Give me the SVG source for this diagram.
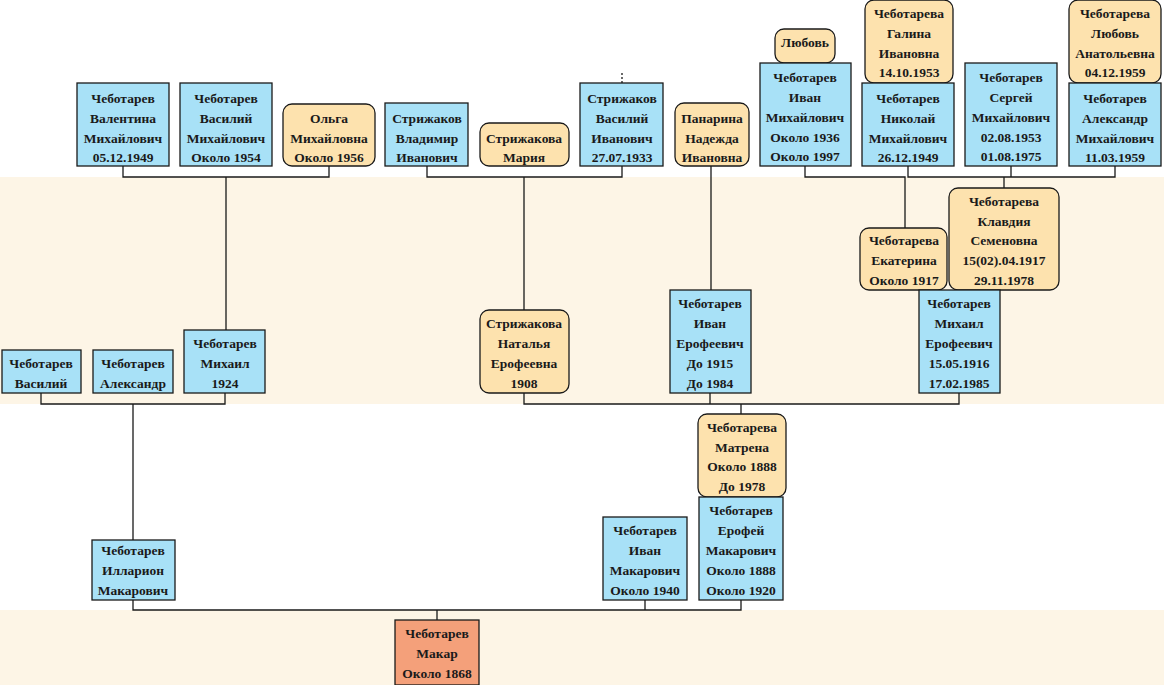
<svg xmlns="http://www.w3.org/2000/svg" width="1164" height="685" viewBox="0 0 1164 685">
<style>
.m{fill:#a8e1f7;stroke:#1a1a1a;stroke-width:1.3}
.f{fill:#fde2ae;stroke:#1a1a1a;stroke-width:1.3}
.r{fill:#f4a07a;stroke:#1a1a1a;stroke-width:1.3}
text{font-family:"Liberation Serif",serif;font-weight:bold;font-size:13.5px;fill:#1a1a1a;text-anchor:middle}
#c path{fill:none;stroke:#1a1a1a;stroke-width:1.3}
</style>
<rect width="1164" height="685" fill="#fff"/>
<rect x="0" y="177" width="1164" height="227" fill="#fdf5e6"/>
<rect x="0" y="610" width="1164" height="75" fill="#fdf5e6"/>
<g id="c">
<path d="M123 166V177H329V166M226 177V330"/>
<path d="M427 166V177H622V166M524 177V310"/>
<path d="M622 73V83" stroke-dasharray="2,2"/>
<path d="M711 166V290"/>
<path d="M805 166V177H905V228"/>
<path d="M908 166V177H1115V166M1011 166V177M1004 177V188"/>
<path d="M41 393V404H225V393M133 404V540"/>
<path d="M524 393V404H959V393M710 393V404M741 404V414"/>
<path d="M133 600V610H741V600M645 600V610M437 610V620"/>
</g>
<g id="n1"><rect class="m" x="77" y="83" width="92" height="83"/><text x="123" y="103">Чеботарев</text><text x="123" y="123">Валентина</text><text x="123" y="143">Михайлович</text><text x="123" y="162">05.12.1949</text></g>
<g id="n2"><rect class="m" x="180" y="83" width="92" height="83"/><text x="226" y="103">Чеботарев</text><text x="226" y="123">Василий</text><text x="226" y="143">Михайлович</text><text x="226" y="162">Около 1954</text></g>
<g id="n3"><rect class="f" x="283" y="104" width="92" height="62" rx="9"/><text x="329" y="123">Ольга</text><text x="329" y="143">Михайловна</text><text x="329" y="162">Около 1956</text></g>
<g id="n4"><rect class="m" x="385" y="103" width="83" height="63"/><text x="427" y="123">Стрижаков</text><text x="427" y="143">Владимир</text><text x="427" y="162">Иванович</text></g>
<g id="n5"><rect class="f" x="480" y="123" width="89" height="43" rx="9"/><text x="524" y="143">Стрижакова</text><text x="524" y="162">Мария</text></g>
<g id="n6"><rect class="m" x="580" y="83" width="83" height="83"/><text x="622" y="103">Стрижаков</text><text x="622" y="123">Василий</text><text x="622" y="143">Иванович</text><text x="622" y="162">27.07.1933</text></g>
<g id="n7"><rect class="f" x="675" y="103" width="74" height="63" rx="9"/><text x="712" y="123">Панарина</text><text x="712" y="143">Надежда</text><text x="712" y="162">Ивановна</text></g>
<g id="n8"><rect class="f" x="775" y="29" width="60" height="34" rx="9"/><text x="805" y="47">Любовь</text></g>
<g id="n9"><rect class="m" x="760" y="63" width="91" height="103"/><text x="805" y="82">Чеботарев</text><text x="805" y="102">Иван</text><text x="805" y="122">Михайлович</text><text x="805" y="142">Около 1936</text><text x="805" y="161">Около 1997</text></g>
<g id="n10"><rect class="f" x="865" y="0" width="88" height="83" rx="9"/><text x="909" y="18">Чеботарева</text><text x="909" y="38">Галина</text><text x="909" y="58">Ивановна</text><text x="909" y="77">14.10.1953</text></g>
<g id="n11"><rect class="m" x="862" y="83" width="92" height="83"/><text x="908" y="103">Чеботарев</text><text x="908" y="123">Николай</text><text x="908" y="143">Михайлович</text><text x="908" y="162">26.12.1949</text></g>
<g id="n12"><rect class="m" x="965" y="63" width="92" height="103"/><text x="1011" y="82">Чеботарев</text><text x="1011" y="102">Сергей</text><text x="1011" y="122">Михайлович</text><text x="1011" y="142">02.08.1953</text><text x="1011" y="161">01.08.1975</text></g>
<g id="n13"><rect class="f" x="1069" y="0" width="92" height="83" rx="9"/><text x="1115" y="18">Чеботарева</text><text x="1115" y="38">Любовь</text><text x="1115" y="58">Анатольевна</text><text x="1115" y="77">04.12.1959</text></g>
<g id="n14"><rect class="m" x="1069" y="83" width="92" height="83"/><text x="1115" y="103">Чеботарев</text><text x="1115" y="123">Александр</text><text x="1115" y="143">Михайлович</text><text x="1115" y="162">11.03.1959</text></g>
<g id="n15"><rect class="f" x="860" y="228" width="87" height="62" rx="9"/><text x="904" y="245">Чеботарева</text><text x="904" y="265">Екатерина</text><text x="904" y="285">Около 1917</text></g>
<g id="n16"><rect class="f" x="949" y="188" width="110" height="102" rx="9"/><text x="1004" y="206">Чеботарева</text><text x="1004" y="226">Клавдия</text><text x="1004" y="245">Семеновна</text><text x="1004" y="265">15(02).04.1917</text><text x="1004" y="285">29.11.1978</text></g>
<g id="n17"><rect class="m" x="919" y="290" width="81" height="103"/><text x="959" y="308">Чеботарев</text><text x="959" y="328">Михаил</text><text x="959" y="348">Ерофеевич</text><text x="959" y="368">15.05.1916</text><text x="959" y="388">17.02.1985</text></g>
<g id="n18"><rect class="m" x="670" y="290" width="81" height="103"/><text x="710" y="308">Чеботарев</text><text x="710" y="328">Иван</text><text x="710" y="348">Ерофеевич</text><text x="710" y="368">До 1915</text><text x="710" y="388">До 1984</text></g>
<g id="n19"><rect class="f" x="480" y="310" width="89" height="83" rx="9"/><text x="524" y="328">Стрижакова</text><text x="524" y="348">Наталья</text><text x="524" y="368">Ерофеевна</text><text x="524" y="388">1908</text></g>
<g id="n20"><rect class="m" x="184" y="330" width="81" height="63"/><text x="225" y="348">Чеботарев</text><text x="225" y="368">Михаил</text><text x="225" y="388">1924</text></g>
<g id="n21"><rect class="m" x="2" y="350" width="79" height="43"/><text x="41" y="368">Чеботарев</text><text x="41" y="388">Василий</text></g>
<g id="n22"><rect class="m" x="93" y="350" width="80" height="43"/><text x="133" y="368">Чеботарев</text><text x="133" y="388">Александр</text></g>
<g id="n23"><rect class="f" x="698" y="414" width="88" height="83" rx="9"/><text x="742" y="432">Чеботарева</text><text x="742" y="452">Матрена</text><text x="742" y="471">Около 1888</text><text x="742" y="491">До 1978</text></g>
<g id="n24"><rect class="m" x="699" y="497" width="84" height="103"/><text x="741" y="515">Чеботарев</text><text x="741" y="535">Ерофей</text><text x="741" y="555">Макарович</text><text x="741" y="575">Около 1888</text><text x="741" y="595">Около 1920</text></g>
<g id="n25"><rect class="m" x="603" y="517" width="84" height="83"/><text x="645" y="535">Чеботарев</text><text x="645" y="555">Иван</text><text x="645" y="575">Макарович</text><text x="645" y="595">Около 1940</text></g>
<g id="n26"><rect class="m" x="92" y="540" width="83" height="60"/><text x="133" y="555">Чеботарев</text><text x="133" y="575">Илларион</text><text x="133" y="595">Макарович</text></g>
<g id="n27"><rect class="r" x="395" y="620" width="84" height="65"/><text x="437" y="638">Чеботарев</text><text x="437" y="658">Макар</text><text x="437" y="678">Около 1868</text></g>
</svg>
